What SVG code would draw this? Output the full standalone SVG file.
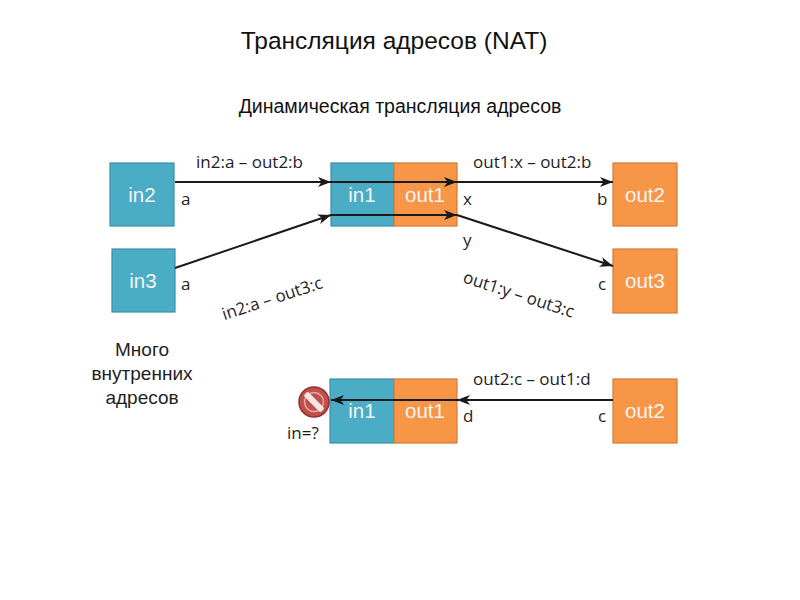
<svg xmlns="http://www.w3.org/2000/svg" width="800" height="600" viewBox="0 0 800 600">
<defs>
<style>
.bg{fill:#ffffff}
.blue{fill:#4BACC6;stroke:#3B8FA8;stroke-width:1.2}
.orange{fill:#F79646;stroke:#D27B35;stroke-width:1.2}
.bt{font-family:"Liberation Sans",Arial,sans-serif;font-size:20.5px;fill:#F4F4F4;text-anchor:middle}
.lbl{font-family:"Open Sans","DejaVu Sans",sans-serif;font-size:17px;fill:#1e1e1e}
.title{font-family:"Liberation Sans",Arial,sans-serif;fill:#111;text-anchor:middle}
.conn{stroke:#1a1a1a;stroke-width:2;fill:none;marker-end:url(#arr)}
</style>
<marker id="arr" markerUnits="userSpaceOnUse" markerWidth="14" markerHeight="12" refX="13" refY="5" orient="auto">
<path d="M0,0 L13,5 L0,10 L3.5,5 Z" fill="#1a1a1a"/>
</marker>
</defs>
<rect class="bg" x="0" y="0" width="800" height="600"/>
<text class="title" x="394" y="49" font-size="24.5">Трансляция адресов (NAT)</text>
<text class="title" x="400" y="113" font-size="19.5">Динамическая трансляция адресов</text>

<g id="node-in2"><rect class="blue" x="110" y="163" width="64" height="63"/><text class="bt" x="142" y="202">in2</text></g>
<g id="node-in3"><rect class="blue" x="112" y="249" width="63" height="63"/><text class="bt" x="143" y="288">in3</text></g>
<g id="node-nat-top">
<rect class="blue" x="331" y="163" width="63" height="63"/><text class="bt" x="362" y="202">in1</text>
<rect class="orange" x="394" y="163" width="63" height="63"/><text class="bt" x="425" y="202">out1</text>
</g>
<g id="node-out2"><rect class="orange" x="613" y="163" width="64" height="63"/><text class="bt" x="645" y="202">out2</text></g>
<g id="node-out3"><rect class="orange" x="613" y="249" width="64" height="64"/><text class="bt" x="645" y="288">out3</text></g>
<g id="node-nat-bottom">
<rect class="blue" x="330" y="379" width="64" height="64"/><text class="bt" x="362" y="418">in1</text>
<rect class="orange" x="394" y="379" width="63" height="64"/><text class="bt" x="425" y="418">out1</text>
</g>
<g id="node-out2-bottom"><rect class="orange" x="613" y="379" width="64" height="64"/><text class="bt" x="645" y="418">out2</text></g>

<g id="connectors">
<path class="conn" d="M175,182 H331"/>
<path class="conn" d="M331,182 H457"/>
<path class="conn" d="M457,182 H613"/>
<path class="conn" d="M175,268 L331,215"/>
<path class="conn" d="M331,215 H457"/>
<path class="conn" d="M457,215 L613,266"/>
<path class="conn" d="M613,400 H457"/>
<path class="conn" d="M457,400 H331"/>
</g>

<g id="labels">
<text class="lbl" x="196" y="168">in2:a – out2:b</text>
<text class="lbl" x="181" y="205">a</text>
<text class="lbl" x="181" y="290">a</text>
<text class="lbl" x="274" y="304" text-anchor="middle" transform="rotate(-18 274 304)">in2:a – out3:c</text>
<text class="lbl" x="473" y="168">out1:x – out2:b</text>
<text class="lbl" x="463" y="205">x</text>
<text class="lbl" x="463" y="246">y</text>
<text class="lbl" x="597" y="205">b</text>
<text class="lbl" x="598" y="290">c</text>
<text class="lbl" x="517" y="300" text-anchor="middle" transform="rotate(18 517 300)">out1:y – out3:c</text>
<text class="lbl" x="473" y="385">out2:c – out1:d</text>
<text class="lbl" x="463" y="422">d</text>
<text class="lbl" x="598" y="422">c</text>
<text class="lbl" x="287" y="439">in=?</text>
</g>

<g id="many-internal" font-family="'Liberation Sans',Arial,sans-serif" font-size="19" fill="#1e1e1e" text-anchor="middle">
<text x="142" y="356">Много</text>
<text x="142" y="380">внутренних</text>
<text x="142" y="404">адресов</text>
</g>

<g id="node-forbidden">
<circle cx="314" cy="402" r="15" fill="#C0504D" stroke="#96302D" stroke-width="1.5"/>
<circle cx="314" cy="402" r="9.5" fill="none" stroke="#E7A9A6" stroke-width="1.5"/>
<rect x="302" y="399" width="24" height="6" rx="2" fill="#F5E6E5" transform="rotate(45 314 402)"/>
</g>
</svg>
